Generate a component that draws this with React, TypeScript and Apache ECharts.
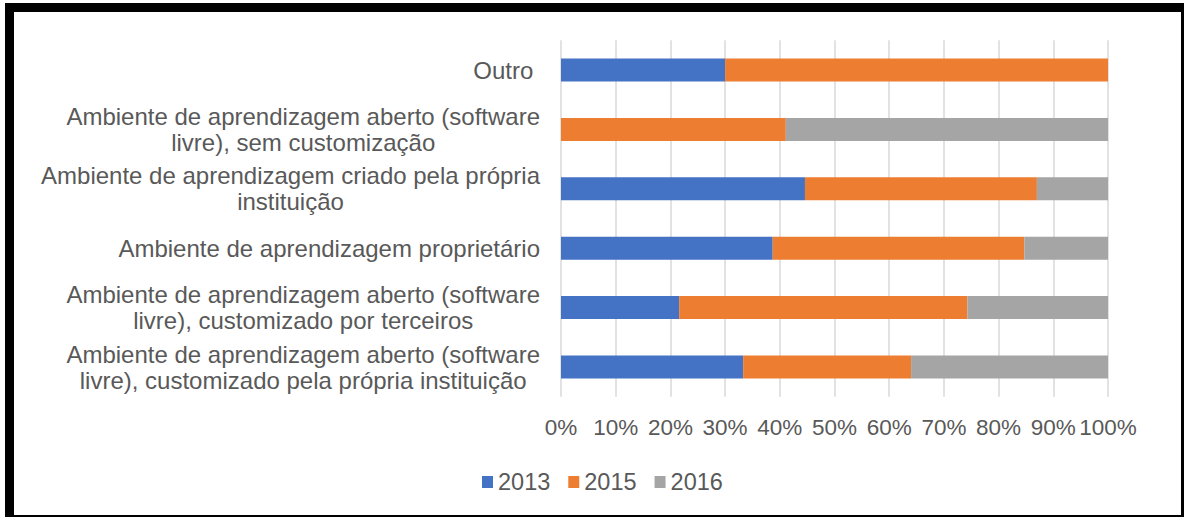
import React, { useEffect, useRef } from "react";
import * as echarts from "echarts";

const categories = [
  "Outro ",
  "Ambiente de aprendizagem aberto (software\nlivre), sem customização",
  "Ambiente de aprendizagem criado pela própria\ninstituição",
  "Ambiente de aprendizagem proprietário",
  "Ambiente de aprendizagem aberto (software\nlivre), customizado por terceiros",
  "Ambiente de aprendizagem aberto (software\nlivre), customizado pela própria instituição",
];

const seriesNames = ["2013", "2015", "2016"];
const values2013 = [30, 0, 44.6, 38.7, 21.6, 33.3];
const values2015 = [70, 41.1, 42.4, 46.0, 52.7, 30.7];
const values2016 = [0, 58.9, 13.0, 15.3, 25.7, 36.0];
const colors = ["#4472C4", "#ED7D31", "#A5A5A5"];

const FONT = "'Liberation Sans', Arial, sans-serif";
const TEXT = "#595959";

export default function App() {
  const ref = useRef<HTMLDivElement>(null);

  useEffect(() => {
    if (!ref.current) return;
    const chart = echarts.init(ref.current, null, { renderer: "svg" });
    const data = [values2013, values2015, values2016];
    chart.setOption({
      animation: false,
      backgroundColor: "#ffffff",
      textStyle: { fontFamily: FONT },
      grid: { left: 561, right: 76, top: 40.3, bottom: 120.3, containLabel: false },
      legend: {
        data: seriesNames,
        left: 477,
        top: 465,
        itemWidth: 11,
        itemHeight: 12,
        itemGap: 18,
        icon: "rect",
        textStyle: { color: TEXT, fontSize: 23.5, fontFamily: FONT, padding: [0, 0, 0, 0] },
      },
      xAxis: {
        type: "value",
        min: 0,
        max: 100,
        interval: 10,
        axisLine: { show: false },
        axisTick: { show: false },
        splitLine: { show: true, lineStyle: { color: "#d9d9d9", width: 1.5 } },
        axisLabel: {
          formatter: "{value}%",
          color: TEXT,
          fontSize: 22.5,
          fontFamily: FONT,
          margin: 19,
        },
      },
      yAxis: {
        type: "category",
        inverse: true,
        data: categories,
        axisLine: { show: false },
        axisTick: { show: false },
        splitLine: { show: false },
        axisLabel: {
          margin: 21,
          color: TEXT,
          fontSize: 24,
          fontFamily: FONT,
          formatter: (v: string) =>
            v
              .split("\n")
              .map((l) => `{c|${l}}`)
              .join("\n"),
          rich: {
            c: {
              align: "center",
              fontSize: 24,
              lineHeight: 26,
              color: TEXT,
              fontFamily: FONT,
            },
          },
        },
      },
      series: seriesNames.map((name, i) => ({
        name,
        type: "bar",
        stack: "total",
        barWidth: 23,
        data: data[i],
        itemStyle: { color: colors[i] },
      })),
      graphic: [
        { type: "rect", shape: { x: 5, y: 3, width: 1179, height: 9 }, style: { fill: "#000" } },
        { type: "rect", shape: { x: 5, y: 3, width: 9, height: 514 }, style: { fill: "#000" } },
        { type: "rect", shape: { x: 1181, y: 3, width: 3, height: 514 }, style: { fill: "#000" } },
        { type: "rect", shape: { x: 5, y: 515, width: 1179, height: 2 }, style: { fill: "#000" } },
      ],
    });
    return () => chart.dispose();
  }, []);

  return (
    <div
      ref={ref}
      style={{ position: "absolute", left: 0, top: 0, width: 1184, height: 517, background: "#fff" }}
    />
  );
}
